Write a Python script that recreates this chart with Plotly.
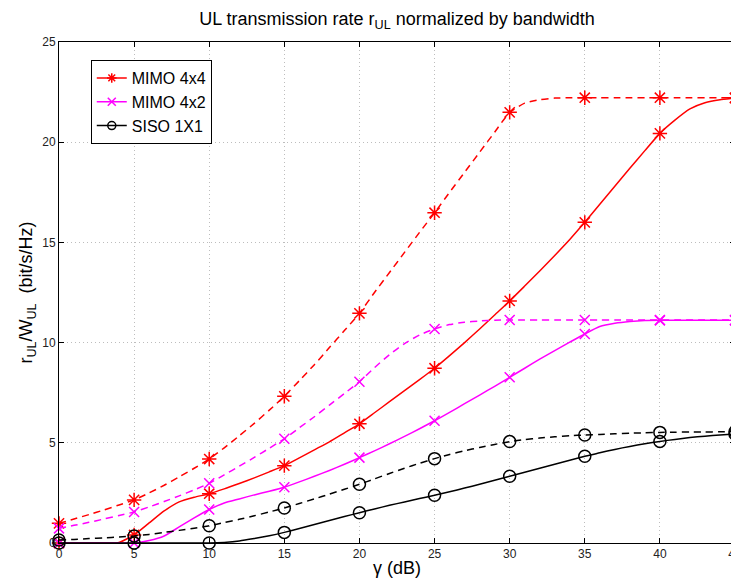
import plotly.graph_objects as go

# SNR axis (dB), curves sampled every 1 dB, markers every 5 dB
gamma_db = list(range(0, 46))

mimo44_upper = [0.98, 1.2, 1.42, 1.65, 1.9, 2.15, 2.5, 2.88, 3.3, 3.73,
                4.19, 4.75, 5.35, 5.97, 6.63, 7.32, 8.1, 8.9, 9.75, 10.6,
                11.46, 12.5, 13.5, 14.5, 15.5, 16.48, 17.5, 18.5, 19.5, 20.5,
                21.49, 21.95, 22.12, 22.2, 22.22, 22.22, 22.22, 22.22, 22.22, 22.22,
                22.22, 22.22, 22.22, 22.22, 22.22, 22.22]
mimo44_lower = [0.0, 0.0, 0.0, 0.0, 0.03, 0.4, 1.0, 1.6, 2.05, 2.28,
                2.46, 2.7, 2.97, 3.25, 3.55, 3.86, 4.25, 4.65, 5.05, 5.5,
                5.95, 6.5, 7.05, 7.6, 8.15, 8.72, 9.35, 10.0, 10.68, 11.38,
                12.08, 12.82, 13.57, 14.35, 15.15, 16.0, 16.9, 17.8, 18.7, 19.58,
                20.44, 21.1, 21.66, 21.97, 22.12, 22.2]
mimo42_upper = [0.73, 0.88, 1.03, 1.2, 1.37, 1.55, 1.8, 2.07, 2.35, 2.65,
                2.98, 3.4, 3.83, 4.27, 4.73, 5.2, 5.75, 6.3, 6.88, 7.46,
                8.05, 8.75, 9.4, 9.95, 10.38, 10.68, 10.9, 11.02, 11.08, 11.12,
                11.13, 11.13, 11.13, 11.13, 11.13, 11.13, 11.13, 11.13, 11.13, 11.13,
                11.13, 11.13, 11.13, 11.13, 11.13, 11.13]
mimo42_lower = [0.0, 0.0, 0.0, 0.0, 0.0, 0.0, 0.12, 0.35, 0.8, 1.25,
                1.67, 2.0, 2.2, 2.4, 2.58, 2.78, 3.05, 3.33, 3.62, 3.93,
                4.26, 4.6, 4.95, 5.32, 5.7, 6.1, 6.52, 6.95, 7.38, 7.82,
                8.27, 8.72, 9.17, 9.6, 10.02, 10.43, 10.8, 10.96, 11.05, 11.1,
                11.11, 11.11, 11.11, 11.11, 11.11, 11.11]
siso_upper = [0.15, 0.18, 0.22, 0.26, 0.3, 0.35, 0.43, 0.53, 0.63, 0.74,
              0.86, 1.02, 1.18, 1.36, 1.55, 1.75, 1.97, 2.2, 2.44, 2.68,
              2.93, 3.2, 3.47, 3.73, 3.98, 4.21, 4.42, 4.6, 4.77, 4.92,
              5.06, 5.16, 5.24, 5.3, 5.35, 5.39, 5.42, 5.45, 5.48, 5.5,
              5.52, 5.53, 5.54, 5.54, 5.55, 5.55]
siso_lower = [0.0, 0.0, 0.0, 0.0, 0.0, 0.0, 0.0, 0.0, 0.0, 0.0,
              0.0, 0.03, 0.1, 0.22, 0.36, 0.53, 0.72, 0.92, 1.12, 1.32,
              1.51, 1.7, 1.88, 2.05, 2.22, 2.38, 2.56, 2.74, 2.93, 3.13,
              3.33, 3.53, 3.73, 3.93, 4.13, 4.33, 4.5, 4.67, 4.82, 4.95,
              5.07, 5.17, 5.26, 5.33, 5.39, 5.44]

series_names = ["MIMO 4x4", "MIMO 4x2", "SISO 1X1"]
x_ticks = [0, 5, 10, 15, 20, 25, 30, 35, 40, 45]
y_ticks = [0, 5, 10, 15, 20, 25]

styles = [
    ("#ff0000", "asterisk-open", 12, mimo44_upper, mimo44_lower),
    ("#ff00ff", "x-thin-open", 10, mimo42_upper, mimo42_lower),
    ("#000000", "circle-open", 12, siso_upper, siso_lower),
]

fig = go.Figure()

step = 5
xm = gamma_db[::step]
for name, (color, sym, msize, upper, lower) in zip(series_names, styles):
    for ys, dash in ((upper, "7px,5px"), (lower, "solid")):
        fig.add_trace(go.Scatter(
            x=gamma_db, y=ys, mode="lines", showlegend=False, hoverinfo="skip",
            line=dict(color=color, width=1.5, dash=dash, shape="spline", smoothing=0.5),
        ))
        fig.add_trace(go.Scatter(
            x=xm, y=ys[::step], mode="markers", showlegend=False, cliponaxis=False,
            marker=dict(symbol=sym, size=msize, color=color, line=dict(color=color, width=1.5)),
        ))

for name, (color, sym, msize, upper, lower) in zip(series_names, styles):
    fig.add_trace(go.Scatter(
        x=[None], y=[None], mode="lines+markers", name=name,
        line=dict(color=color, width=1.5),
        marker=dict(symbol=sym, size=8, color=color, line=dict(color=color, width=1.5)),
    ))

axis_common = dict(
    showline=True, linecolor="black", linewidth=1, mirror="ticks",
    ticks="inside", ticklen=5, tickcolor="black",
    showgrid=True, gridcolor="#bdbdbd", griddash="1px,3px", gridwidth=1,
    zeroline=False, automargin=False, ticklabeloverflow="allow",
    tickfont=dict(family="Liberation Sans, Arial", size=12, color="#222"),
)

# the page body adds an 8px offset; figure size/margins compensate for it
fig.update_layout(
    width=731, height=573,
    margin=dict(l=51, r=4, t=34, b=38),
    paper_bgcolor="white", plot_bgcolor="white",
    font=dict(family="Liberation Sans, Arial", color="black"),
    title=dict(text="UL transmission rate r<sub>UL</sub> normalized by bandwidth",
               xref="paper", x=0.5, xanchor="center", y=0.981, yanchor="middle",
               font=dict(size=18, color="black")),
    xaxis=dict(range=[0, 45], tickvals=x_ticks, **axis_common,
               title=dict(text="γ (dB)", font=dict(size=18), standoff=0)),
    yaxis=dict(range=[0, 25], tickvals=y_ticks, **axis_common,
               title=dict(text="r<sub>UL</sub>/W<sub>UL</sub>&nbsp;&nbsp;(bit/s/Hz)", font=dict(size=18), standoff=4)),
    legend=dict(x=0.047, y=0.964, xanchor="left", yanchor="top",
                bgcolor="white", bordercolor="black", borderwidth=1,
                font=dict(size=16), itemwidth=30, tracegroupgap=0),
)

fig.write_html("out.html")
